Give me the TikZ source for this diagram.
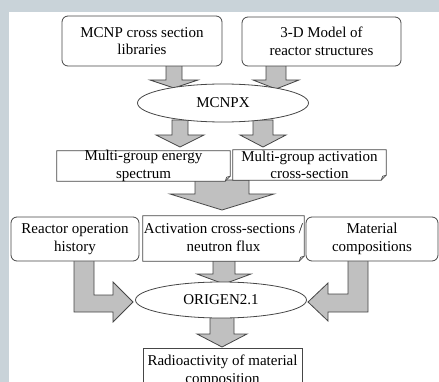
\documentclass[tikz,border=0pt]{standalone}
\usepackage{fontspec}
\setmainfont{Liberation Serif}
\usetikzlibrary{shapes.geometric}
\definecolor{bggray}{RGB}{201,211,217}
\definecolor{arrfill}{RGB}{192,192,192}
\definecolor{edge}{RGB}{70,70,70}
\tikzset{
  txt/.style={font=\fontsize{15}{17.5}\selectfont, align=center, inner sep=0pt},
  rbox/.style={txt, draw=edge, line width=0.8pt, rounded corners=6pt, fill=white},
  fbox/.style={txt},
  ell/.style={txt, draw=edge, line width=0.8pt, ellipse, fill=white},
  barr/.style={draw=edge, fill=arrfill, line width=0.8pt, line join=miter},
  foldline/.style={draw=edge, line width=0.8pt, fill=white},
}
\newcommand{\foldframe}[1]{%
  \draw[foldline] (#1.north west) -- (#1.north east) -- ([yshift=5pt]#1.south east)
     -- ([xshift=-5pt]#1.south east) -- (#1.south west) -- cycle;
  \draw[draw=edge, line width=0.7pt] ([xshift=-5pt]#1.south east) -- ([xshift=-3.5pt,yshift=4pt]#1.south east) -- ([yshift=5pt]#1.south east);
}
% cx, ytop, ybase, ytip, shaft half width, head half width
\newcommand{\blockdown}[6]{%
  \draw[barr] ({#1-#5},#2) -- ({#1+#5},#2) -- ({#1+#5},#3) -- ({#1+#6},#3)
    -- (#1,#4) -- ({#1-#6},#3) -- ({#1-#5},#3) -- cycle;
}
\begin{document}
\begin{tikzpicture}[x=1pt,y=-1pt]
\clip (0,0) rectangle (439,382);
\useasboundingbox (0,0) rectangle (439,382);
\fill[bggray] (0,0) rectangle (439,12);
\fill[bggray] (0,0) rectangle (9,382);

% arrows first (behind boxes)
\blockdown{174}{65}{80}{88}{8}{24}
\blockdown{276}{65}{80}{89}{10}{23}
\blockdown{180}{120}{135}{147}{8}{24}
\blockdown{263}{120}{135}{147}{10}{23}
\blockdown{222}{180}{194}{210}{27}{52}
\blockdown{224}{260}{274}{284}{11}{27}
\blockdown{222}{317}{334}{347}{12}{25}
% L-shaped arrows
\draw[barr] (74,260) -- (94,260) -- (94,295) -- (113,295) -- (113,282) -- (133,302)
  -- (113,322) -- (113,312) -- (74,312) -- cycle;
\draw[barr] (368,260) -- (348,260) -- (348,294) -- (328,294) -- (328,283) -- (308,302)
  -- (328,321) -- (328,312) -- (368,312) -- cycle;

% nodes
\node[rbox, minimum width=160, minimum height=50] (lib) at (142,41) {MCNP cross section\\libraries};
\node[rbox, minimum width=159, minimum height=49] (model) at (321.5,41.5) {3-D Model of\\reactor structures};
\node[ell, minimum width=171, minimum height=38] (mcnpx) at (223,103) {MCNPX};

\node[fbox, minimum width=173, minimum height=30] (spec) at (143.5,166) {};
\foldframe{spec}
\node[txt] (spect) at (spec) {Multi-group energy\\spectrum};
\node[fbox, minimum width=153, minimum height=30] (act) at (309.5,165) {};
\foldframe{act}
\node[txt] (actt) at (act) {Multi-group activation\\cross-section};

\node[fbox, minimum width=161, minimum height=45] (flux) at (223.5,238.5) {};
\foldframe{flux}
\node[txt] (fluxt) at ([yshift=1pt]flux) {Activation cross-sections /\\neutron flux};

\node[rbox, minimum width=128, minimum height=44] (hist) at (75,239) {Reactor operation\\history};
\node[rbox, minimum width=132, minimum height=44] (mat) at (372,239) {Material\\compositions};

\node[ell, minimum width=171, minimum height=36] (origen) at (221,300) {ORIGEN2.1};

\node[txt, draw=edge, line width=0.8pt, fill=white, minimum width=159, minimum height=52, anchor=north] (radio) at (222.5,348) {};
\node[txt, anchor=north] (radiot) at (222.5,355) {Radioactivity of material\\composition};
\end{tikzpicture}
\end{document}
